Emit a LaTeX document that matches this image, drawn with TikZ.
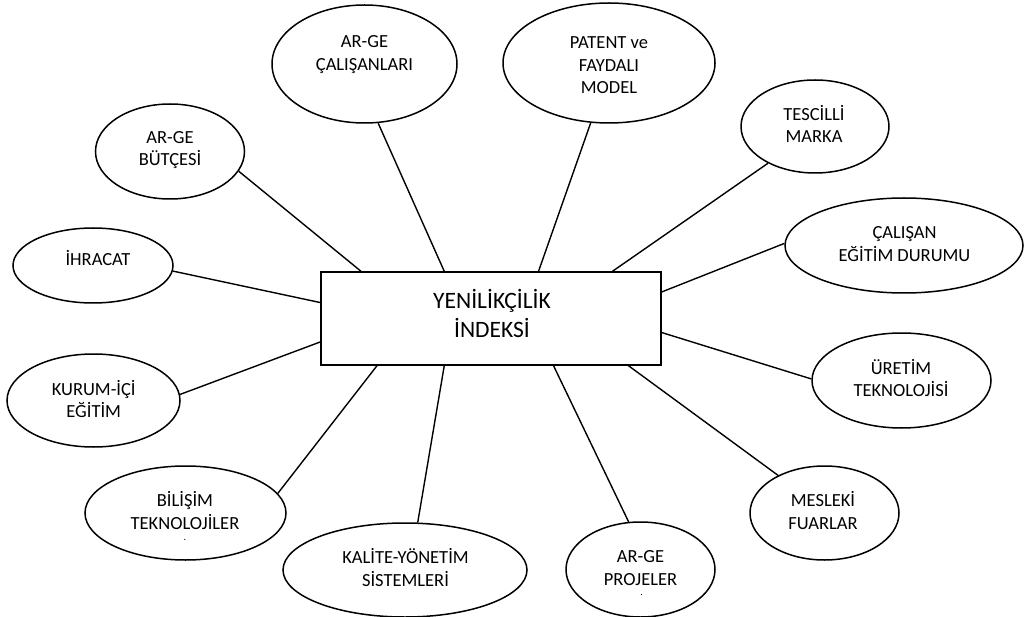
\documentclass[tikz,border=0pt]{standalone}
\usepackage{fontspec}
\setmainfont{Carlito}
\usetikzlibrary{shapes.geometric}
\begin{document}
\begin{tikzpicture}[x=1pt,y=-1pt,
  oval/.style={draw,ellipse,line width=1.5pt,inner sep=0pt},
  lbl/.style={align=center,font=\fontsize{18.5}{22.5}\selectfont,inner sep=0pt},
  dotlbl/.style={font=\fontsize{10}{10}\selectfont,inner sep=0pt},
  link/.style={line width=1.4pt}]
\useasboundingbox (0,0) rectangle (1027,617);
% centre box
\node[draw,line width=1.5pt,minimum width=340pt,minimum height=93pt,inner sep=0pt] (idx) at (491,318.5) {};
\node[align=center,font=\fontsize{23.5}{29}\selectfont,inner sep=0pt] (idxt) at (492,313) {YENİLİKÇİLİK\\İNDEKSİ};
% ellipses
\node[oval,minimum width=185pt,minimum height=118pt] (e1) at (364.5,64) {};
\node[lbl] (t1) at (364.5,54.5) {AR-GE\\ÇALIŞANLARI};
\node[oval,minimum width=149pt,minimum height=95pt] (e2) at (170,151.5) {};
\node[lbl] (t2) at (170,150) {AR-GE\\BÜTÇESİ};
\node[oval,minimum width=160pt,minimum height=75pt] (e3) at (93,265.5) {};
\node[lbl] (t3) at (98,258.3) {İHRACAT};
\node[oval,minimum width=212pt,minimum height=120pt] (e4) at (609,63) {};
\node[lbl] (t4) at (609,65.5) {PATENT ve\\FAYDALI\\MODEL};
\node[oval,minimum width=148pt,minimum height=93pt] (e5) at (815,126.5) {};
\node[lbl] (t5) at (814,124) {TESCİLLİ\\MARKA};
\node[oval,minimum width=238pt,minimum height=95pt] (e6) at (904,245.5) {};
\node[lbl] (t6) at (904.5,244) {ÇALIŞAN\\EĞİTİM DURUMU};
\node[oval,minimum width=173pt,minimum height=93pt] (e7) at (93.5,400.5) {};
\node[lbl] (t7) at (93.7,399) {KURUM-İÇİ\\EĞİTİM};
\node[oval,minimum width=201pt,minimum height=94pt] (e8) at (185.5,513) {};
\node[lbl] (t8) at (185,510.5) {BİLİŞİM\\TEKNOLOJİLER};
\node[dotlbl] (d8) at (185,540) {.};
\node[oval,minimum width=244pt,minimum height=94pt] (e9) at (405,570) {};
\node[lbl] (t9) at (405.5,567.5) {KALİTE-YÖNETİM\\SİSTEMLERİ};
\node[oval,minimum width=149pt,minimum height=95pt] (e10) at (640.5,569.5) {};
\node[lbl] (t10) at (640.5,568) {AR-GE\\PROJELER};
\node[dotlbl] (d10) at (641.7,595) {.};
\node[oval,minimum width=149pt,minimum height=94pt] (e11) at (824.5,513) {};
\node[lbl] (t11) at (823,510.5) {MESLEKİ\\FUARLAR};
\node[oval,minimum width=179pt,minimum height=95pt] (e12) at (901.5,380.5) {};
\node[lbl] (t12) at (901,378) {ÜRETİM\\TEKNOLOJİSİ};
% connectors
\draw[link] (e2.-16) -- ([xshift=40.7pt]idx.north west);
\draw[link] (e1.-77.4) -- ([xshift=124pt]idx.north west);
\draw[link] (e4.-107.6) -- ([xshift=218.3pt]idx.north west);
\draw[link] (e5.-142.7) -- ([xshift=292.3pt]idx.north west);
\draw[link] (e3.-4.4) -- ([yshift=-31.3pt]idx.north west);
\draw[link] (e7.4.1) -- ([yshift=-70.7pt]idx.north west);
\draw[link] (e6.179) -- ([yshift=-20.7pt]idx.north east);
\draw[link] (e12.179) -- ([yshift=-61.3pt]idx.north east);
\draw[link] (e8.12.1) -- ([xshift=56.7pt]idx.south west);
\draw[link] (e9.75) -- ([xshift=124pt]idx.south west);
\draw[link] (e10.104.6) -- ([xshift=233.3pt]idx.south west);
\draw[link] (e11.141.5) -- ([xshift=308.3pt]idx.south west);
\end{tikzpicture}
\end{document}
